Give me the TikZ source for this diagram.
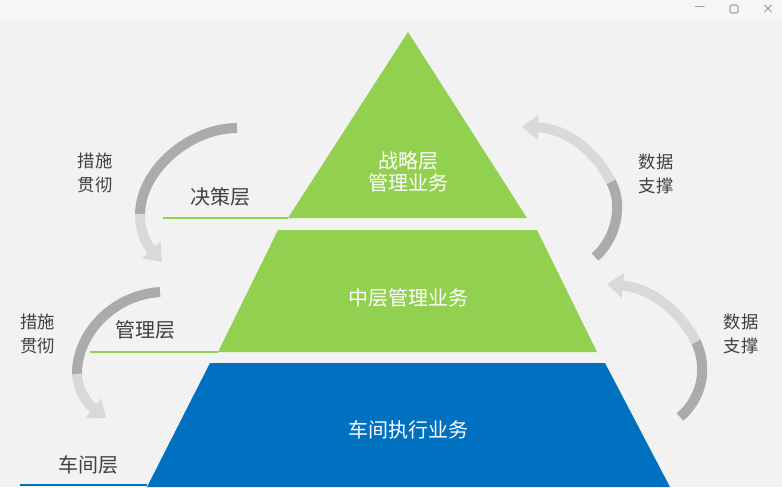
\documentclass[tikz,border=0pt]{standalone}
\usepackage{fontspec}
\setmainfont{Noto Sans CJK SC}
\usetikzlibrary{arrows.meta}
\definecolor{bg}{HTML}{F2F2F2}
\definecolor{bar}{HTML}{F6F6F6}
\definecolor{lgreen}{HTML}{92D050}
\definecolor{dblue}{HTML}{0070C0}
\definecolor{txt}{HTML}{404040}
\definecolor{adark}{HTML}{ABABAB}
\definecolor{alight}{HTML}{D9D9D9}
\begin{document}
\begin{tikzpicture}[x=0.75pt,y=-0.75pt,
  layer/.style={font=\fontsize{15}{18}\selectfont,text=white,align=center},
  lvl/.style={font=\fontsize{15}{18}\selectfont,text=txt},
  side/.style={font=\fontsize{13}{18}\selectfont,text=txt,align=center,inner sep=0pt},
  arrd/.style={draw=adark,line width=7.5pt},
  arrl/.style={draw=alight,line width=7.5pt,-{Triangle[width=18pt,length=12pt]}},
  arrdl/.style={draw=adark,line width=7.5pt,-{Triangle[width=18pt,length=12pt]}}]
\fill[bg] (0,0) rectangle (782,487);
\fill[bar] (0,0) rectangle (782,22);
\node[text=gray,font=\small] (wmin) at (700,9) {—};
\draw[gray!70,line width=0.8pt,rounded corners=1pt] (730,5) rectangle (738,13);
\node[text=gray,font=\small] (wx) at (768,9) {×};
% pyramid
\fill[lgreen] (408,32) -- (527,218) -- (288,218) -- cycle;
\fill[lgreen] (278,230) -- (537,230) -- (597,352) -- (218,352) -- cycle;
\fill[dblue] (210,363) -- (605,363) -- (670,487) -- (147,487) -- cycle;
\draw[lgreen,line width=0.8pt] (163,218) -- (288,218);
\draw[lgreen,line width=0.8pt] (90,352) -- (218,352);
\draw[dblue,line width=1pt] (20,485) -- (147,485);
\node[layer] (top) at (408,172) {战略层\\[-2pt]管理业务};
\node[layer] (mid) at (408,298) {中层管理业务};
\node[layer] (bot) at (408,430) {车间执行业务};
\node[lvl] (l1) at (220,197) {决策层};
\node[lvl] (l2) at (145,330) {管理层};
\node[lvl] (l3) at (88,465) {车间层};
\node[side] (s1) at (95,173) {措施\\贯彻};
\node[side] (s2) at (38,334) {措施\\贯彻};
\node[side] (d1) at (656,174) {数据\\支撑};
\node[side] (d2) at (741,334) {数据\\支撑};
% arrows
\draw[arrd] (237,128) .. controls (190,128) and (140,170) .. (140,215);
\draw[arrl] (140,214) .. controls (140,232) and (146,244) .. (162,262);
\draw[arrd] (160,292) .. controls (112,295) and (76,335) .. (77,375);
\draw[arrl] (77,374) .. controls (78,392) and (88,404) .. (106,418);
\draw[arrd] (595,257) .. controls (615,240) and (625,205) .. (610,180);
\draw[arrl] (611,182) .. controls (595,150) and (565,128) .. (522,127);
\draw[arrd] (680,417) .. controls (700,400) and (710,370) .. (695,340);
\draw[arrl] (696,342) .. controls (680,310) and (650,288) .. (607,284);
\end{tikzpicture}
\end{document}
